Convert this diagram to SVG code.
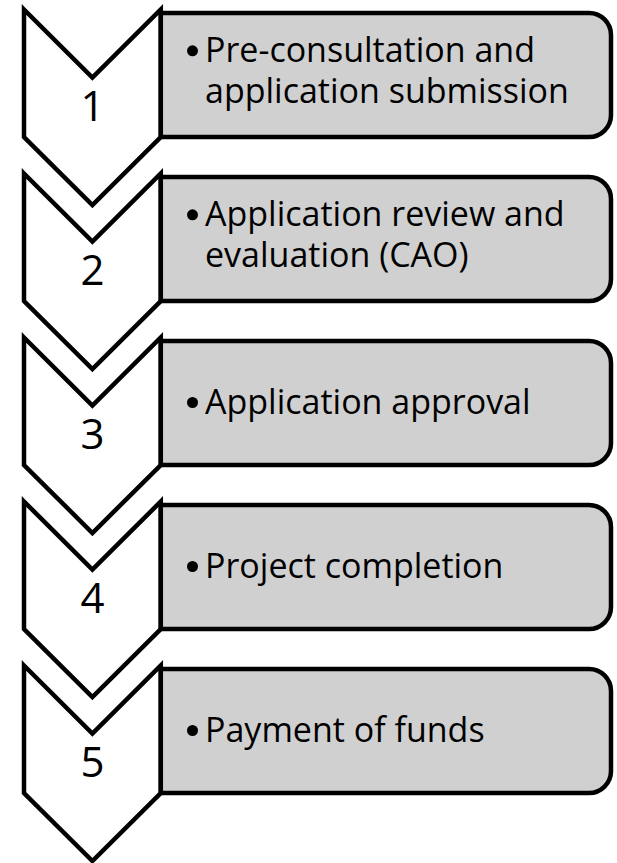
<svg xmlns="http://www.w3.org/2000/svg" xmlns:xlink="http://www.w3.org/1999/xlink" width="617" height="863" viewBox="0 0 617 863">
  <style>
    .chev { fill: #ffffff; stroke: #000000; stroke-width: 4.5; stroke-linejoin: miter; }
    .card { fill: #d0d0d0; stroke: #000000; stroke-width: 4.5; stroke-linejoin: round; }
    .num { font-family: "Open Sans", "Noto Sans", "Liberation Sans", sans-serif; font-size: 42px; fill: #000000; text-anchor: middle; }
    .item { font-family: "Open Sans", "Noto Sans", "Liberation Sans", sans-serif; font-size: 34px; fill: #000000; }
    .dot { fill: #000000; }
  </style>
  <defs>
    <!-- down-pointing chevron, 136 wide -->
    <path id="chevron" d="M24,9.5 L92.4,77.5 L160.8,9.5 L160.8,137 L92.4,205 L24,137 Z"/>
    <!-- text panel, square on the left, rounded on the right -->
    <path id="panel" d="M160.8,13 H589 A22,22 0 0 1 611,35 V115 A22,22 0 0 1 589,137 H160.8 Z"/>
  </defs>

  <rect width="617" height="863" fill="#ffffff"/>

  <!-- step 1 -->
  <g id="step1">
    <g id="chevron1"><use xlink:href="#chevron" class="chev"/><text class="num" x="92.5" y="121">1</text></g>
    <g id="panel1">
      <use xlink:href="#panel" class="card"/>
      <circle class="dot" cx="192.5" cy="50.8" r="5.5"/>
      <text class="item" x="205" y="61.7">Pre-consultation and</text>
      <text class="item" x="205" y="103.3">application submission</text>
    </g>
  </g>

  <!-- step 2 -->
  <g id="step2" transform="translate(0,164)">
    <g id="chevron2"><use xlink:href="#chevron" class="chev"/><text class="num" x="92.5" y="121">2</text></g>
    <g id="panel2">
      <use xlink:href="#panel" class="card"/>
      <circle class="dot" cx="192.5" cy="50.8" r="5.5"/>
      <text class="item" x="205" y="61.7">Application review and</text>
      <text class="item" x="205" y="103.3">evaluation (CAO)</text>
    </g>
  </g>

  <!-- step 3 -->
  <g id="step3" transform="translate(0,328)">
    <g id="chevron3"><use xlink:href="#chevron" class="chev"/><text class="num" x="92.5" y="121">3</text></g>
    <g id="panel3">
      <use xlink:href="#panel" class="card"/>
      <circle class="dot" cx="192.5" cy="74.5" r="5.5"/>
      <text class="item" x="205" y="85.5">Application approval</text>
    </g>
  </g>

  <!-- step 4 -->
  <g id="step4" transform="translate(0,492)">
    <g id="chevron4"><use xlink:href="#chevron" class="chev"/><text class="num" x="92.5" y="121">4</text></g>
    <g id="panel4">
      <use xlink:href="#panel" class="card"/>
      <circle class="dot" cx="192.5" cy="74.5" r="5.5"/>
      <text class="item" x="205" y="85.5">Project completion</text>
    </g>
  </g>

  <!-- step 5 -->
  <g id="step5" transform="translate(0,656)">
    <g id="chevron5"><use xlink:href="#chevron" class="chev"/><text class="num" x="92.5" y="121">5</text></g>
    <g id="panel5">
      <use xlink:href="#panel" class="card"/>
      <circle class="dot" cx="192.5" cy="74.5" r="5.5"/>
      <text class="item" x="205" y="85.5">Payment of funds</text>
    </g>
  </g>

  <!-- no separate connectors: the chevrons carry the flow -->
  <g id="connectors"/>
</svg>
